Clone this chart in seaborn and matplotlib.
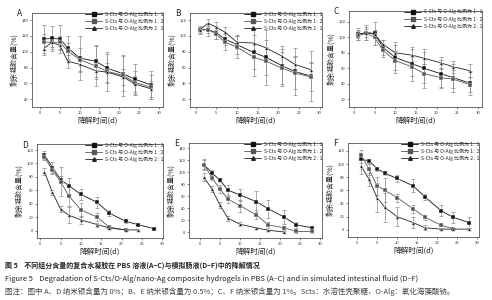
import numpy as np
import pandas as pd
import matplotlib
matplotlib.use("Agg")
import matplotlib.pyplot as plt
import seaborn as sns

# ---------------------------------------------------------
# Data (remaining gel content, %)
# ---------------------------------------------------------
days = [1, 3, 5, 7, 10, 14, 17, 21, 24, 28]
groups = ["S-Cts 与 O-Alg 比例为 1 : 1",
          "S-Cts 与 O-Alg 比例为 1 : 2",
          "S-Cts 与 O-Alg 比例为 2 : 1"]

# A: PBS, 0% nano-Ag
a_11 = [116, 117, 116, 105, 92, 88, 79, 72, 65, 58]
a_12 = [112, 112, 112, 101, 90, 82, 75, 70, 61, 55]
a_21 = [104, 112, 108, 88, 84, 76, 74, 68, 59, 53]
a_err_11 = [18, 16, 18, 15, 28, 20, 18, 22, 20, 18]
a_err_12 = [10, 8, 8, 10, 15, 25, 25, 26, 14, 15]
a_err_21 = [8, 6, 6, 8, 10, 10, 12, 10, 10, 10]

# B: PBS, 0.5% nano-Ag
b_11 = [108, 108, 104, 96, 89, 79, 73, 62, 55, 49]
b_12 = [107, 108, 102, 92, 86, 73, 68, 59, 53, 48]
b_21 = [108, 116, 111, 105, 92, 91, 85, 74, 64, 57]
b_err_11 = [4, 8, 8, 8, 12, 30, 35, 25, 30, 32]
b_err_12 = [4, 4, 6, 10, 14, 15, 18, 20, 20, 18]
b_err_21 = [3, 5, 6, 6, 8, 10, 10, 10, 10, 10]

# C: PBS, 1% nano-Ag
c_11 = [104, 106, 105, 87, 74, 66, 60, 53, 48, 41]
c_12 = [102, 105, 100, 83, 70, 62, 53, 48, 46, 39]
c_21 = [104, 106, 104, 91, 80, 77, 73, 67, 62, 57]
c_err_11 = [8, 10, 15, 10, 20, 22, 25, 18, 18, 15]
c_err_12 = [6, 8, 10, 8, 12, 12, 12, 12, 12, 10]
c_err_21 = [5, 5, 5, 5, 10, 8, 8, 8, 8, 8]

# D: intestinal fluid, 0% nano-Ag
d_11 = [113, 94, 76, 67, 54, 42, 26, 14, 9, 3]
d_12 = [110, 90, 73, 52, 31, 20, 5, 1, np.nan, np.nan]
d_21 = [88, 57, 32, 23, 16, 9, 4, 1, 1, np.nan]
d_err_11 = [6, 8, 5, 12, 8, 8, 4, 3, 2, 1]
d_err_12 = [5, 6, 22, 15, 10, 6, 3, 1, 0, 0]
d_err_21 = [5, 4, 4, 12, 6, 3, 2, 1, 1, 0]

# E: intestinal fluid, 0.5% nano-Ag
e_11 = [113, 99, 87, 70, 62, 51, 39, 25, 12, 7]
e_12 = [113, 91, 72, 55, 44, 29, 12, 7, 1, 1]
e_21 = [92, 72, 45, 23, 13, 7, 3, 0, np.nan, np.nan]
e_err_11 = [10, 4, 4, 8, 10, 18, 15, 12, 5, 3]
e_err_12 = [8, 4, 6, 6, 10, 8, 5, 3, 2, 2]
e_err_21 = [6, 5, 5, 4, 3, 2, 1, 1, 0, 0]

# F: intestinal fluid, 1% nano-Ag
f_11 = [107, 105, 93, 86, 78, 67, 50, 29, 19, 11]
f_12 = [114, 92, 67, 60, 49, 32, 19, 7, 1.5, np.nan]
f_21 = [97, 77, 49, 34, 20, 11, 3, 1, 1, 1]
f_err_11 = [6, 3, 3, 3, 5, 10, 5, 8, 8, 8]
f_err_12 = [8, 8, 14, 18, 6, 6, 4, 2, 1, 0]
f_err_21 = [12, 10, 22, 22, 15, 8, 4, 1, 1, 1]

panels = {
    "A": ([a_11, a_12, a_21], [a_err_11, a_err_12, a_err_21]),
    "B": ([b_11, b_12, b_21], [b_err_11, b_err_12, b_err_21]),
    "C": ([c_11, c_12, c_21], [c_err_11, c_err_12, c_err_21]),
    "D": ([d_11, d_12, d_21], [d_err_11, d_err_12, d_err_21]),
    "E": ([e_11, e_12, e_21], [e_err_11, e_err_12, e_err_21]),
    "F": ([f_11, f_12, f_21], [f_err_11, f_err_12, f_err_21]),
}

# ---------------------------------------------------------
# Layout in pixels (left, top, right, bottom), limits, ticks
# ---------------------------------------------------------
W, H = 492, 300
boxes = {
    "A": (32, 13, 163, 107), "B": (190, 13, 322, 107), "C": (349, 11, 482, 107),
    "D": (37, 144, 163, 238), "E": (189, 143, 322, 238), "F": (348, 143, 479, 237),
}
xlims = {"A": (-2, 31), "B": (-1.4, 30.6), "C": (-1.2, 31), "D": (-0.8, 30.2),
         "E": (-2.7, 30.4), "F": (-2.25, 30.5)}
ylims = {"A": (30, 149), "B": (10, 129), "C": (10, 134), "D": (-11, 129),
         "E": (-10, 149), "F": (-11, 132)}
yticks = {"A": range(40, 141, 20), "B": range(20, 121, 20), "C": range(20, 121, 20),
          "D": range(0, 121, 20), "E": range(0, 141, 20), "F": range(0, 121, 20)}

sns.set_style("ticks")
plt.rcParams["font.family"] = ["Noto Sans CJK SC", "DejaVu Sans"]
plt.rcParams["axes.unicode_minus"] = False

palette = {groups[0]: "#111111", groups[1]: "#555555", groups[2]: "#222222"}
markers = {groups[0]: "s", groups[1]: "s", groups[2]: "^"}

fig = plt.figure(figsize=(W / 100, H / 100), dpi=100)

for name, (series, errs) in panels.items():
    x0, y0, x1, y1 = boxes[name]
    ax = fig.add_axes([x0 / W, 1 - y1 / H, (x1 - x0) / W, (y1 - y0) / H])

    rows = []
    for g, vals in zip(groups, series):
        for d, v in zip(days, vals):
            rows.append({"day": d, "value": v, "group": g})
    df = pd.DataFrame(rows).dropna()

    # error bars first so lines sit on top
    for g, vals, err in zip(groups, series, errs):
        ax.errorbar(days, vals, yerr=err, fmt="none", ecolor="#8a8a8a",
                    elinewidth=0.5, capsize=1.2, capthick=0.5, zorder=1)

    sns.lineplot(data=df, x="day", y="value", hue="group", style="group",
                 palette=palette, markers=markers, dashes=False,
                 markersize=2.6, linewidth=0.6, markeredgewidth=0.3,
                 ax=ax, legend=False, zorder=3)

    ax.set_xlim(*xlims[name])
    ax.set_ylim(*ylims[name])
    ax.set_xticks(range(0, 31, 5))
    ax.set_yticks(list(yticks[name]))
    ax.tick_params(labelsize=3, length=1.2, width=0.4, pad=1.5, colors="#333333")
    for sp in ax.spines.values():
        sp.set_linewidth(0.5)
        sp.set_color("#333333")

    ax.set_xlabel("降解时间(d)", fontsize=5.5, labelpad=1.5)
    ax.set_ylabel("剩余凝胶含量(%)", fontsize=5, labelpad=2)

    handles = [plt.Line2D([], [], color=palette[g], marker=markers[g],
                          markersize=2.6, linewidth=0.6) for g in groups]
    ax.legend(handles, groups, loc="upper right", bbox_to_anchor=(1.02, 1.04),
              frameon=False, fontsize=3.6, handlelength=3.4,
              handletextpad=0.6, labelspacing=0.35, borderaxespad=0)

    fig.text((x0 - 15) / W, 1 - (y0 + 1) / H, name, fontsize=6,
             ha="left", va="center", color="#222222")

# ---------------------------------------------------------
# Caption
# ---------------------------------------------------------
fig.text(5 / W, 1 - 265 / H,
         "图 5    不同组分含量的复合水凝胶在 PBS 溶液(A–C)与模拟肠液(D–F)中的降解情况",
         fontsize=5.0, fontweight="bold", va="center", color="#222222")
fig.text(5 / W, 1 - 279 / H,
         "Figure 5    Degradation of S-Cts/O-Alg/nano-Ag composite hydrogels in PBS (A–C) "
         "and in simulated intestinal fluid (D–F)",
         fontsize=5.4, va="center", color="#222222")
fig.text(5 / W, 1 - 292 / H,
         "图注：图中 A、D 纳米银含量为 0%；B、E 纳米银含量为 0.5%；C、F 纳米银含量为 1%。"
         "Scts：水溶性壳聚糖，O-Alg：氧化海藻酸钠。",
         fontsize=5.4, va="center", color="#444444")

fig.savefig("out.png", dpi=100)
